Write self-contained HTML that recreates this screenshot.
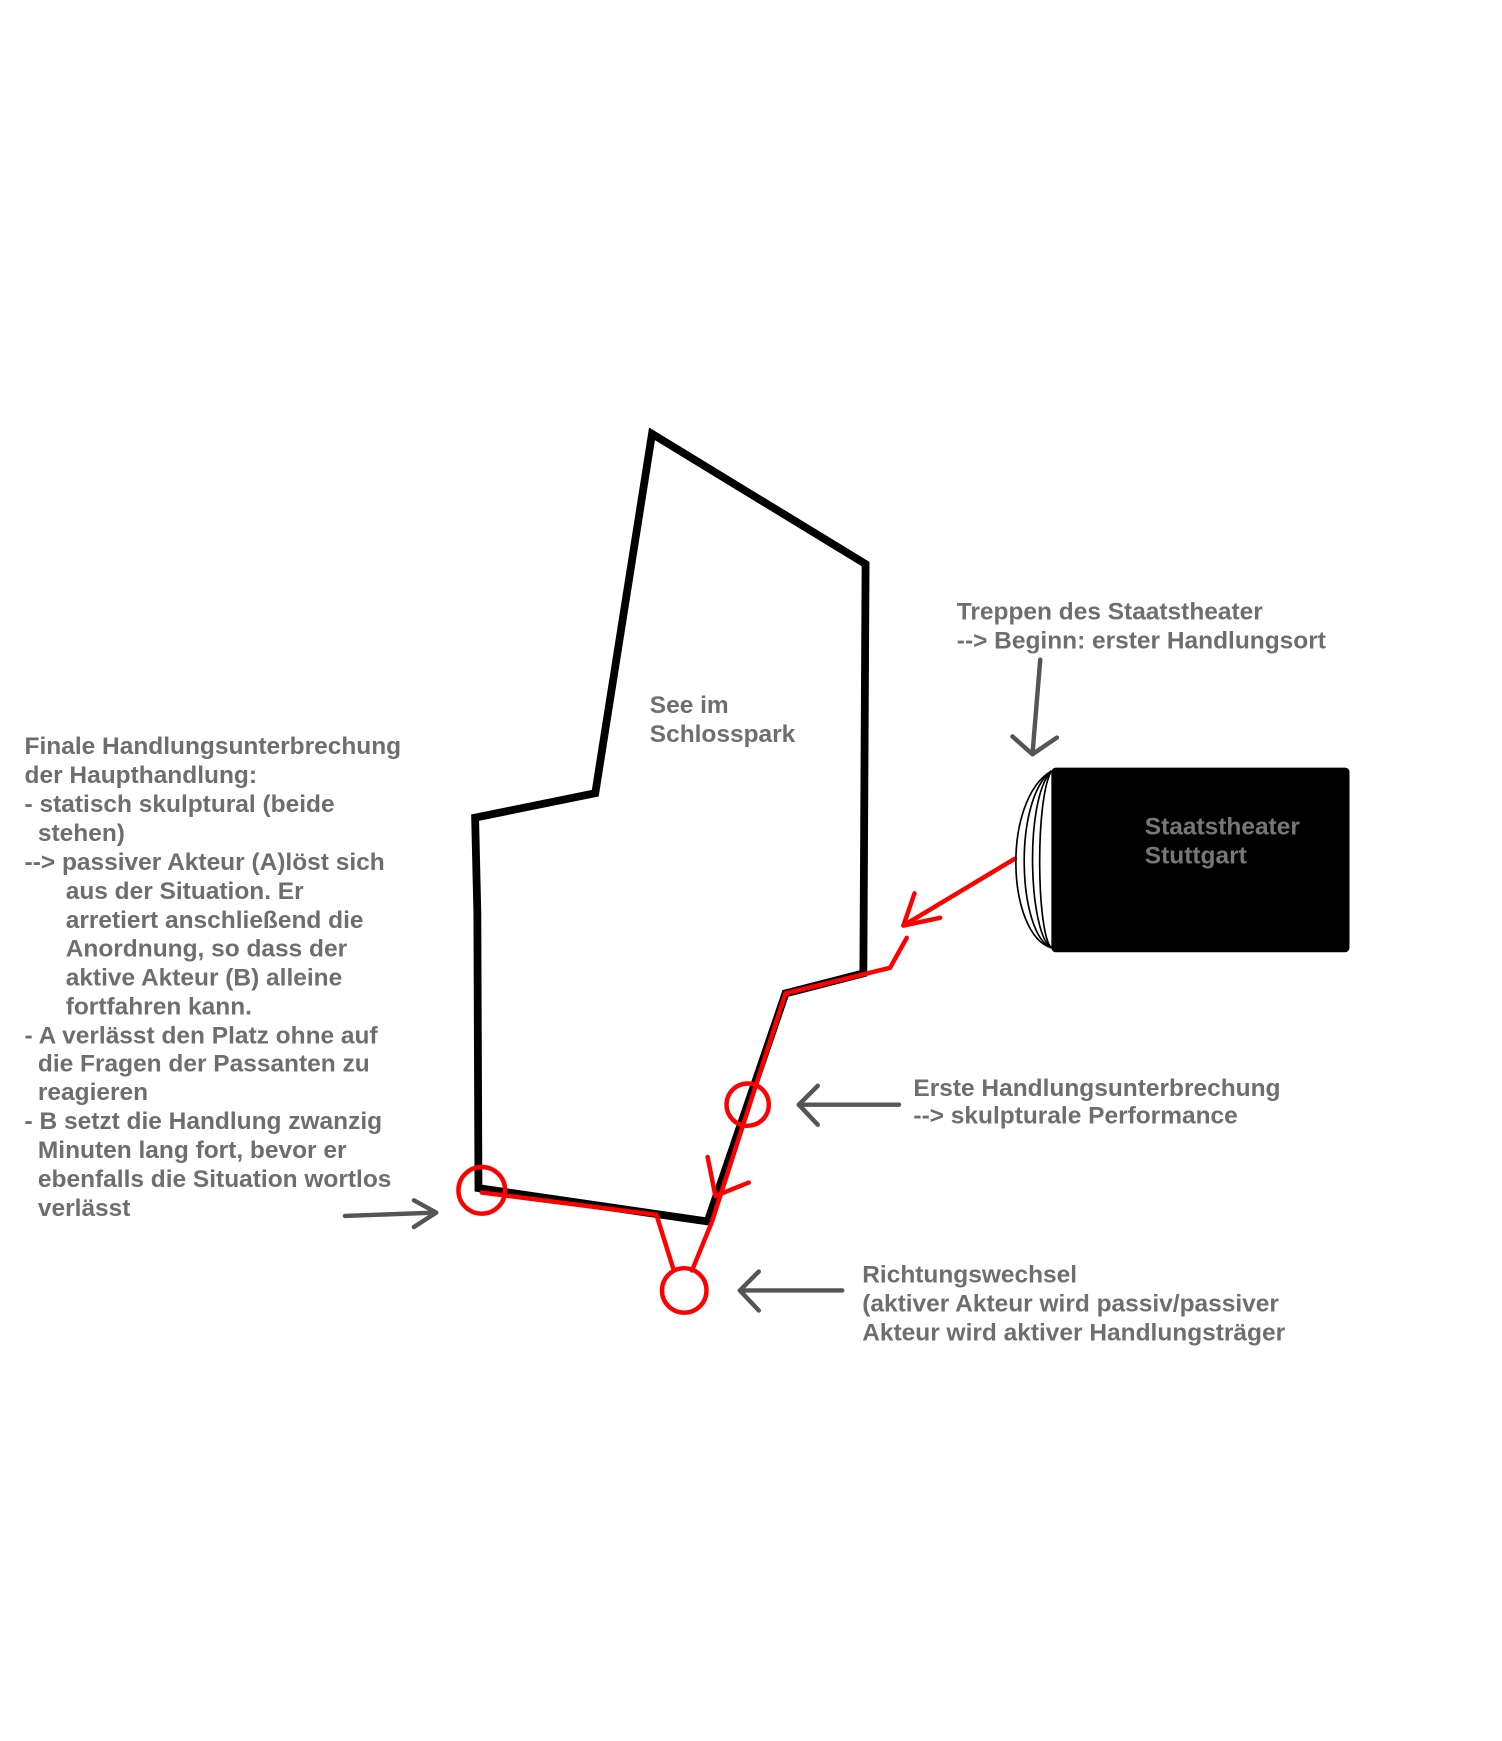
<!DOCTYPE html>
<html><head><meta charset="utf-8"><style>
html,body{margin:0;padding:0;background:#fff;}
svg{display:block;}
text{font-family:"Liberation Sans",Arial,sans-serif;font-weight:bold;font-size:22px;fill:#6e6e6e;}
</style></head><body>
<svg width="1502" height="1741" viewBox="0 0 1350 1565" xmlns="http://www.w3.org/2000/svg">
<rect width="1350" height="1565" fill="#fff"/>
<polygon points="586,390 778,507 777,690 776,875 706,893 636,1098 430,1068 429,820 427,735 535,713" fill="none" stroke="#000" stroke-width="7" stroke-linejoin="miter"/>
<g fill="none" stroke="#f00" stroke-width="4" stroke-linecap="round" stroke-linejoin="round">
<polyline points="912,772 812,832"/>
<polyline points="822,803 812,832 845,825"/>
<polyline points="815,843 800,870 706,893 640,1098 622,1142"/>
<polyline points="636,1040 643,1075 673,1063"/>
<polyline points="433,1072 590,1092 605,1140"/>
<circle cx="433" cy="1070" r="21"/>
<circle cx="672" cy="993" r="19"/>
<circle cx="615" cy="1160" r="20"/>
</g>
<rect x="945" y="690" width="268" height="166" rx="4" fill="#000"/>
<g fill="none" stroke="#000" stroke-width="1.5">
<path d="M945,693 C900,720 905,840 945,852"/>
<path d="M945,693 C910,720 915,840 945,852"/>
<path d="M945,693 C920,720 925,840 945,852"/>
<path d="M945,693 C930,720 932,840 945,852"/>
</g>
<g fill="none" stroke="#555" stroke-width="4" stroke-linecap="round" stroke-linejoin="round">
<polyline points="935,593 928,678"/><polyline points="910,662 928,678 950,663"/>
<polyline points="808,993 718,993"/><polyline points="735,976 718,993 735,1011"/>
<polyline points="757,1160 665,1160"/><polyline points="682,1143 665,1160 682,1178"/>
<polyline points="310,1093 392,1090"/><polyline points="372,1079 392,1090 372,1103"/>
</g>
<text x="584" y="641">See im</text>
<text x="584" y="667">Schlosspark</text>
<text x="1029" y="750" style="fill:#777">Staatstheater</text>
<text x="1029" y="776" style="fill:#777">Stuttgart</text>
<text x="860" y="557">Treppen des Staatstheater</text>
<text x="860" y="583">--&gt; Beginn: erster Handlungsort</text>
<text x="821" y="985">Erste Handlungsunterbrechung</text>
<text x="821" y="1010">--&gt; skulpturale Performance</text>
<text x="775" y="1153">Richtungswechsel</text>
<text x="775" y="1179">(aktiver Akteur wird passiv/passiver</text>
<text x="775" y="1205">Akteur wird aktiver Handlungsträger</text>
<text x="22" y="678">Finale Handlungsunterbrechung</text>
<text x="22" y="704">der Haupthandlung:</text>
<text x="22" y="730">- statisch skulptural (beide</text>
<text x="34" y="756">stehen)</text>
<text x="22" y="782">--&gt; passiver Akteur (A)löst sich</text>
<text x="59" y="808">aus der Situation. Er</text>
<text x="59" y="834">arretiert anschließend die</text>
<text x="59" y="860">Anordnung, so dass der</text>
<text x="59" y="886">aktive Akteur (B) alleine</text>
<text x="59" y="912">fortfahren kann.</text>
<text x="22" y="938">- A verlässt den Platz ohne auf</text>
<text x="34" y="963">die Fragen der Passanten zu</text>
<text x="34" y="989">reagieren</text>
<text x="22" y="1015">- B setzt die Handlung zwanzig</text>
<text x="34" y="1041">Minuten lang fort, bevor er</text>
<text x="34" y="1067">ebenfalls die Situation wortlos</text>
<text x="34" y="1093">verlässt</text>
</svg>
</body></html>
